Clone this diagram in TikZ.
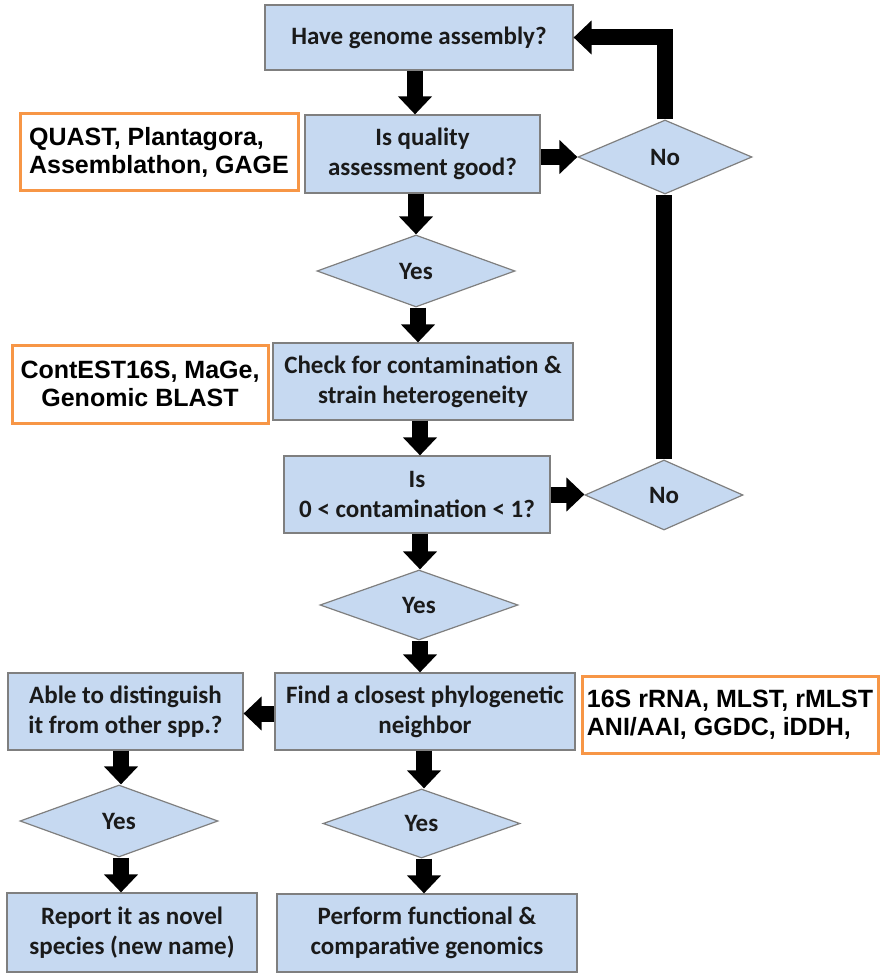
\documentclass[tikz,border=0pt]{standalone}
\usepackage{fontspec}
\usetikzlibrary{arrows.meta,shapes.geometric}
\newfontfamily\calfont{Carlito}
\newfontfamily\arifont{Liberation Sans}
\definecolor{boxfill}{HTML}{C6D9F1}
\definecolor{boxline}{HTML}{7F7F7F}
\definecolor{orangeline}{HTML}{F79646}
\definecolor{txt}{HTML}{1A1A1A}
\pgfdeclarelayer{background}
\pgfsetlayers{background,main}
\begin{document}
\begin{tikzpicture}[x=1pt,y=-1pt,
  stepbox/.style={draw=boxline,line width=1.2pt,fill=boxfill,rectangle,inner sep=0pt,align=center,text=txt,
    font=\calfont\bfseries\fontsize{25}{30}\selectfont},
  decision/.style={draw=boxline,line width=1.2pt,fill=boxfill,diamond,inner sep=0pt,text=txt,
    font=\calfont\bfseries\fontsize{25}{30}\selectfont},
  toolbox/.style={draw=orangeline,line width=3pt,fill=white,rectangle,inner sep=0pt,align=center,text=black,
    font=\arifont\bfseries\fontsize{25}{28}\selectfont},
  fat/.style={line width=16pt,-{Triangle[width=33pt,length=18pt]}},
  fatline/.style={line width=16pt,line join=miter}]
\useasboundingbox (0,0) rectangle (880,973);
% boxes
\node[stepbox,minimum width=308pt,minimum height=65pt] (b1) at (419,37.5) {Have genome assembly?};
\node[stepbox,minimum width=235pt,minimum height=78pt] (b2) at (422.5,154) {Is quality\\assessment good?};
\node[decision,minimum width=198pt,minimum height=72pt] (y1) at (416,271) {Yes};
\node[stepbox,minimum width=300pt,minimum height=77pt] (b3) at (423,381.5) {Check for contamination \&\\strain heterogeneity};
\node[stepbox,minimum width=266pt,minimum height=77pt] (b4) at (417,494.5) {Is\\0 < contamination < 1?};
\node[decision,minimum width=174pt,minimum height=74pt] (no1) at (665,157) {No};
\node[decision,minimum width=158pt,minimum height=70pt] (no2) at (664,495) {No};
\node[decision,minimum width=198pt,minimum height=70pt] (y2) at (419,605) {Yes};
\node[stepbox,minimum width=300pt,minimum height=77pt] (b5) at (425,711.5) {Find a closest phylogenetic\\neighbor};
\node[stepbox,minimum width=235pt,minimum height=77pt] (able) at (125.5,711.5) {Able to distinguish\\it from other spp.?};
\node[decision,minimum width=198pt,minimum height=72pt] (y3) at (119,821) {Yes};
\node[stepbox,minimum width=250pt,minimum height=79pt] (rep) at (132,932.5) {Report it as novel\\species (new name)};
\node[decision,minimum width=197pt,minimum height=69pt] (y4) at (421.5,823.5) {Yes};
\node[stepbox,minimum width=300pt,minimum height=78pt] (perf) at (427,933) {Perform functional \&\\comparative genomics};
% tool boxes
\node[toolbox,minimum width=278pt,minimum height=77pt,align=left] (o1) at (159,152.5) {QUAST, Plantagora,\\Assemblathon, GAGE};
\node[toolbox,minimum width=256pt,minimum height=78pt] (o2) at (140,384) {ContEST16S, MaGe,\\Genomic BLAST};
\node[toolbox,minimum width=296pt,minimum height=77pt,align=left] (o3) at (730,714.5) {16S rRNA, MLST, rMLST\\ANI/AAI, GGDC, iDDH,};
% connectors
\begin{pgfonlayer}{background}
\draw[fatline] (no2.north) -- (no2.north |- no1.south);
\end{pgfonlayer}
\draw[fat] (no1.north) |- (b1.east);
\draw[fat] ([xshift=-4pt]b1.south) -- ([xshift=-4pt]b1.south |- b2.north);
\draw[fat] ([xshift=-6.5pt]b2.south) -- ([xshift=-6.5pt]b2.south |- y1.north);
\draw[fat] ([xshift=2pt]y1.south) -- ([xshift=2pt]y1.south |- b3.north);
\draw[fat] ([xshift=-3pt]b3.south) -- ([xshift=-3pt]b3.south |- b4.north);
\draw[fat] ([xshift=3pt]b4.south) -- ([xshift=3pt]b4.south |- y2.north);
\draw[fat] ([xshift=1pt]y2.south) -- ([xshift=1pt]y2.south |- b5.north);
\draw[fat] (no1.west -| b2.east) -- (no1.west);
\draw[fat] (b4.east) -- (b4.east -| no2.west);
\draw[fat] ([yshift=-2pt]b5.west) -- ([yshift=-2pt]b5.west -| able.east);
\draw[fat] ([xshift=-1pt]b5.south) -- ([xshift=-1pt]b5.south |- y4.north);
\draw[fat] ([xshift=2.5pt]y4.south) -- ([xshift=2.5pt]y4.south |- perf.north);
\draw[fat] ([xshift=-4.5pt]able.south) -- ([xshift=-4.5pt]able.south |- y3.north);
\draw[fat] ([xshift=2pt]y3.south) -- ([xshift=2pt]y3.south |- rep.north);
\end{tikzpicture}
\end{document}
